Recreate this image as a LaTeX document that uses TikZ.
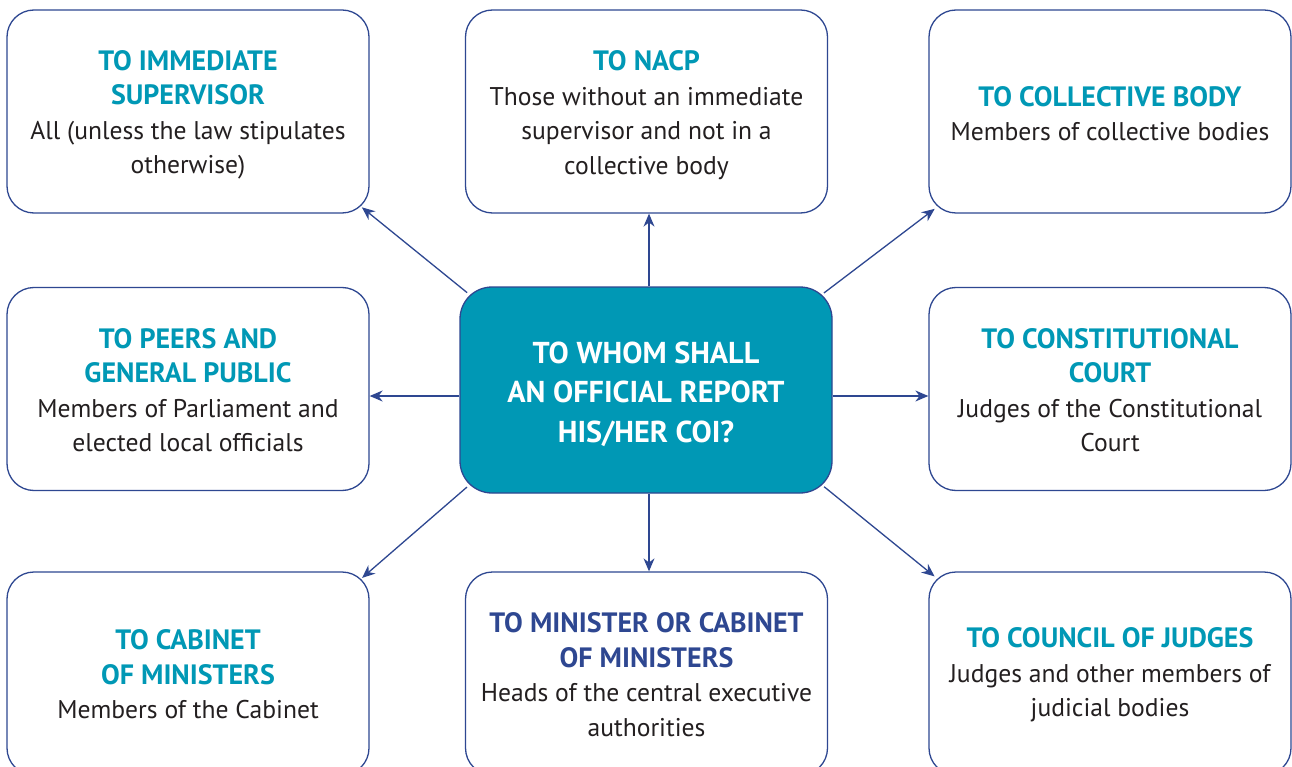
\documentclass[tikz,border=0pt]{standalone}
\usepackage{fontspec}
\setmainfont{PT Sans}
\usetikzlibrary{arrows.meta}
\definecolor{cteal}{HTML}{0098B5}
\definecolor{cblue}{HTML}{2E4791}
\definecolor{ctext}{HTML}{231F20}
\newcommand\boxtitle[1]{{\color{cteal}\bfseries\fontsize{28}{34.5}\selectfont #1}}
\newcommand\boxtitleb[1]{{\color{cblue}\bfseries\fontsize{28}{34.5}\selectfont #1}}
\begin{document}
\begin{tikzpicture}[x=1pt,y=-1pt,
  box/.style={draw=cblue, line width=1.3pt, rounded corners=27pt, fill=white,
    minimum width=362pt, minimum height=203pt, inner sep=0pt},
  txt/.style={align=center, inner sep=0pt,
    font=\fontsize{25.6}{34.5}\selectfont, text=ctext},
  center/.style={draw=cblue, line width=1.3pt, rounded corners=32pt, fill=cteal,
    minimum width=372pt, minimum height=206pt, inner sep=0pt},
  ctxt/.style={align=center, inner sep=0pt,
    font=\bfseries\fontsize{30.2}{39.5}\selectfont, text=white},
  arr/.style={draw=cblue, line width=1.3pt, -{Stealth[length=13pt,width=11pt]}}]
\useasboundingbox (0,0) rectangle (1292,767);
\clip (0,0) rectangle (1292,767);
\fill[white] (0,0) rectangle (1292,767);

\node[box] (tl) at (188,111.5) {};
\node[box] (tm) at (646.5,111.5) {};
\node[box] (tr) at (1110,111.5) {};
\node[box] (ml) at (188,389) {};
\node[box] (mr) at (1110,389) {};
\node[box] (bl) at (188,673.5) {};
\node[box] (bm) at (646.5,673.5) {};
\node[box] (br) at (1110,673.5) {};
\node[center] (c) at (646,390) {};

\node[txt] (tlt) at ([yshift=-3.5pt]tl.center) {\boxtitle{TO IMMEDIATE}\\\boxtitle{SUPERVISOR}\\All (unless the law stipulates\\otherwise)};
\node[txt] (tmt) at ([yshift=-3.5pt]tm.center) {\boxtitle{TO NACP}\\Those without an immediate\\supervisor and not in a\\collective body};
\node[txt] (trt) at ([yshift=-2pt]tr.center) {\boxtitle{TO COLLECTIVE BODY}\\Members of collective bodies};
\node[txt] (mlt) at ([yshift=-1pt]ml.center) {\boxtitle{TO PEERS AND}\\\boxtitle{GENERAL PUBLIC}\\Members of Parliament and\\elected local officials};
\node[txt] (mrt) at ([yshift=-1pt]mr.center) {\boxtitle{TO CONSTITUTIONAL}\\\boxtitle{COURT}\\Judges of the Constitutional\\Court};
\node[txt] (blt) at ([yshift=-1pt]bl.center) {\boxtitle{TO CABINET}\\\boxtitle{OF MINISTERS}\\Members of the Cabinet};
\node[txt] (bmt) at ([yshift=-1pt]bm.center) {\boxtitleb{TO MINISTER OR CABINET}\\\boxtitleb{OF MINISTERS}\\Heads of the central executive\\authorities};
\node[txt] (brt) at ([yshift=-1.5pt]br.center) {\boxtitle{TO COUNCIL OF JUDGES}\\Judges and other members of\\judicial bodies};
\node[ctxt] (ct) at ([yshift=-4pt]c.center) {TO WHOM SHALL\\AN OFFICIAL REPORT\\HIS/HER COI?};

\draw[arr, shorten <=-10pt, shorten >=-10pt] (c.north west) -- (tl.south east);
\draw[arr, shorten <=-11pt, shorten >=-8pt] (c.north east) -- (tr.south west);
\draw[arr, shorten <=-10pt, shorten >=-10pt] (c.south west) -- (bl.north east);
\draw[arr, shorten <=-11pt, shorten >=-8pt] (c.south east) -- (br.north west);
\draw[arr] ([xshift=3pt]c.north) -- ([xshift=2.5pt]tm.south);
\draw[arr] ([xshift=3pt]c.south) -- ([xshift=2.5pt]bm.north);
\draw[arr] ([yshift=-6pt]c.west) -- ([yshift=-7pt]ml.east);
\draw[arr] ([yshift=-6pt]c.east) -- ([yshift=-7pt]mr.west);
\end{tikzpicture}
\end{document}
